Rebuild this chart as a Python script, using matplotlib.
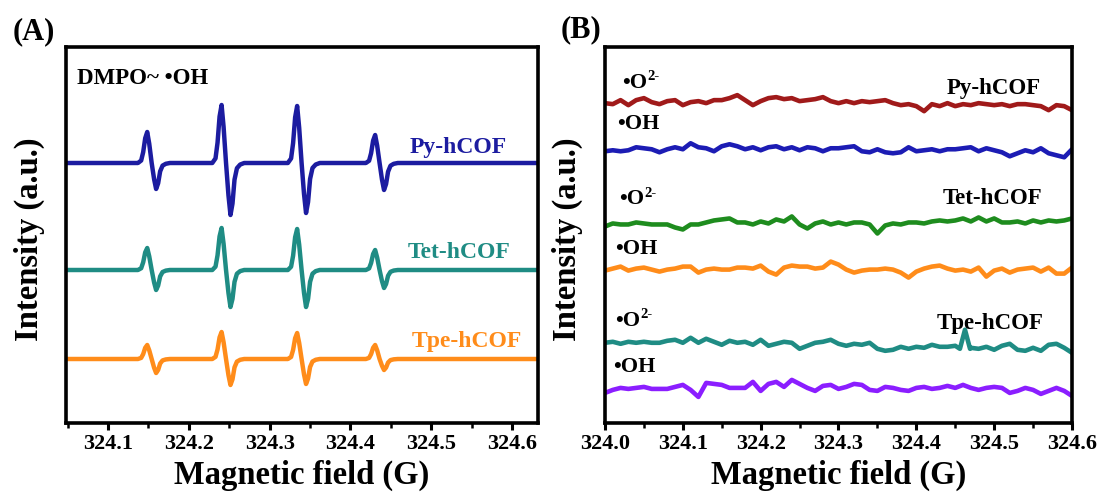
import numpy as np
import matplotlib
matplotlib.use("Agg")
import matplotlib.pyplot as plt
from matplotlib.ticker import MultipleLocator

plt.rcParams['font.family'] = ['Liberation Serif', 'DejaVu Serif']
plt.rcParams['font.weight'] = 'bold'

# ---------------- Panel A data (DMPO-OH quartet) ----------------
A_XLIM = (324.048, 324.632)
A_LINE_CENTERS = [324.154, 324.246, 324.3395, 324.436]
# derivative line shape (offset in G, relative height)
SHAPE_DX = [-0.0170, -0.0130, -0.0105, -0.0080, -0.0055, -0.0030, 0.0,
            0.0030, 0.0055, 0.0080, 0.0105, 0.0135, 0.0175, 0.0225]
SHAPE_Y = [0.0, 0.08, 0.35, 0.80, 1.0, 0.62, 0.0,
           -0.62, -1.0, -0.78, -0.32, -0.10, -0.03, 0.0]
A_NAMES = ['Py-hCOF', 'Tet-hCOF', 'Tpe-hCOF']
A_UP = {'Py-hCOF': [31, 58, 57, 28],
        'Tet-hCOF': [22, 42, 41, 20],
        'Tpe-hCOF': [14, 27, 26, 14]}
A_DOWN = {'Py-hCOF': [26, 52, 50, 27],
          'Tet-hCOF': [20, 37, 37, 18],
          'Tpe-hCOF': [14, 26, 25, 11]}
A_COLORS = {'Py-hCOF': '#1c1ca0', 'Tet-hCOF': '#1f8c84', 'Tpe-hCOF': '#ff8c1a'}
A_OFFSETS = {'Py-hCOF': 260, 'Tet-hCOF': 153, 'Tpe-hCOF': 64}

# ---------------- Panel B data (noise traces) ----------------
FIELD_B = np.round(np.arange(324.00, 324.605, 0.01), 2)
PY_O2 = [0, -1, 3, -2, 3, 5, 1, -1, 2, 3,
         -2, 1, 2, 0, 3, 3, 5, 8, 3, -2,
         2, 5, 6, 4, 5, 2, 3, 4, 6, 2,
         0, 2, 0, 2, 1, 2, 3, 0, -2, -1,
         -3, -8, -1, -3, 0, -3, -1, -2, 0, -1,
         -2, -1, -3, -1, -1, -2, -3, -7, -2, -3,
         -7]
PY_OH = [-1, 0, -1, 0, 3, 2, 1, -2, 1, 3,
         1, 7, 3, 2, -1, 4, 6, 4, 1, 3,
         0, 3, 4, 1, 3, 0, 3, 2, -1, 2,
         2, 3, 4, -1, -2, 1, -2, -3, -2, 3,
         -1, 0, 1, -1, 1, 1, 2, 3, -1, 2,
         0, -2, -6, -3, 0, -2, 2, -3, -5, -7,
         1]
TET_O2 = [-3, 0, -1, -1, 1, 0, -1, -1, -1, -4,
          -6, -1, -1, 1, 3, 4, 5, 1, 1, -1,
          2, 0, 4, 2, 7, -1, -5, 0, 2, -1,
          1, -1, 1, 1, -1, -10, -2, 0, -1, 1,
          1, 0, 2, 3, 2, 3, 5, 2, 6, 2,
          5, 1, 1, 2, 0, 3, 1, 3, 2, 3,
          5]
TET_OH = [-1, 1, 3, -1, 1, 2, 0, -2, 0, 1,
          3, 3, -3, 0, 1, 0, 0, 2, 2, 1,
          4, -2, -5, 2, 4, 3, 3, 1, 2, 8,
          5, 0, -3, -1, 0, 0, 1, 0, -3, -8,
          -2, 1, 3, 4, 1, -1, 0, -2, 2, -7,
          -1, 1, -3, 0, 1, 2, -2, 2, -4, -4,
          2]
TPE_O2_FIELD = list(FIELD_B[:46]) + [324.456, 324.4625, 324.469] + list(FIELD_B[47:])
TPE_O2 = [0, 1, -1, 1, 0, 1, 0, 0, 2, 3,
          0, 5, 0, 4, 1, -2, 2, 0, 1, -2,
          3, -3, -1, 1, 0, -6, -3, 0, 1, 3,
          -1, -3, -1, -2, 0, -6, -8, -7, -4, -6,
          -4, -5, -2, -4, -4, -3,
          -6, 13, -6,
          -5, -6, -4, -7, -3, -1, -7, -8, -5, -8, -2, -1, -5,
          -10]
TPE_OH = [-5, -2, 0, -1, 0, 1, -1, -1, -1, 1,
          3, -2, -9, 5, 4, 3, 0, 0, 0, 6,
          -3, 4, 6, 1, 8, 4, 0, -3, 2, 3,
          -1, 1, 4, 3, -2, -3, 1, 0, -2, -3,
          0, 1, -1, 0, 2, 0, 3, 0, -2, 0,
          1, 0, -5, -3, 0, -2, -6, -3, 0, -3,
          -8]

B_TRACES = [
    (list(FIELD_B), PY_O2, 319, '#a01a1a'),
    (list(FIELD_B), PY_OH, 272, '#1c1cb4'),
    (list(FIELD_B), TET_O2, 199, '#1e8c1e'),
    (list(FIELD_B), TET_OH, 153, '#ff8c1a'),
    (TPE_O2_FIELD, TPE_O2, 80, '#1f8c84'),
    (list(FIELD_B), TPE_OH, 35, '#8b1eff'),
]

# ---------------- Figure ----------------
fig = plt.figure(figsize=(11.01, 4.94), dpi=100)
axA = fig.add_axes([66 / 1101, 71 / 494, 472 / 1101, 376 / 494])
axB = fig.add_axes([605 / 1101, 71 / 494, 467 / 1101, 376 / 494])

TICKFS = 16
LABELFS = 23.5

def style_axis(ax):
    for sp in ax.spines.values():
        sp.set_linewidth(2.6)
    ax.set_yticks([])
    ax.xaxis.set_major_locator(MultipleLocator(0.1))
    ax.xaxis.set_minor_locator(MultipleLocator(0.05))
    ax.tick_params(axis='x', which='major', direction='out', length=5, width=2.2,
                   labelsize=TICKFS, pad=3)
    ax.tick_params(axis='x', which='minor', direction='out', length=3.5, width=1.8)
    ax.set_xlabel('Magnetic field (G)', fontsize=LABELFS, fontweight='bold')
    ax.set_ylabel('Intensity (a.u.)', fontsize=23.5, fontweight='bold')

# Panel A
for name in A_NAMES:
    xs = [A_XLIM[0]]
    ys = [A_OFFSETS[name]]
    for c, up, dn in zip(A_LINE_CENTERS, A_UP[name], A_DOWN[name]):
        for dx, s in zip(SHAPE_DX, SHAPE_Y):
            xs.append(c + dx)
            ys.append(A_OFFSETS[name] + (s * up if s >= 0 else s * dn))
    xs.append(A_XLIM[1])
    ys.append(A_OFFSETS[name])
    axA.plot(xs, ys, color=A_COLORS[name], lw=3.2, solid_joinstyle='round',
             solid_capstyle='round')

axA.set_xlim(*A_XLIM)
axA.set_ylim(0, 376)
style_axis(axA)
axA.xaxis.set_label_coords(0.5, -0.098)
axA.yaxis.set_label_coords(-0.045, 0.49)
axA.set_xticks([324.1, 324.2, 324.3, 324.4, 324.5, 324.6])
axA.set_xticklabels(['324.1', '324.2', '324.3', '324.4', '324.5', '324.6'],
                    fontweight='bold')

axA.text(324.0614, 345, 'DMPO~ •OH', fontsize=16.5, fontweight='bold',
         ha='left', va='center')
axA.text(324.5337, 276, 'Py-hCOF', fontsize=17, fontweight='bold',
         color=A_COLORS['Py-hCOF'], ha='center', va='center')
axA.text(324.535, 171, 'Tet-hCOF', fontsize=17, fontweight='bold',
         color=A_COLORS['Tet-hCOF'], ha='center', va='center')
axA.text(324.5435, 82, 'Tpe-hCOF', fontsize=17, fontweight='bold',
         color=A_COLORS['Tpe-hCOF'], ha='center', va='center')

# Panel B
for xs, dev, off, col in B_TRACES:
    axB.plot(xs, [off + d for d in dev], color=col, lw=3.3, solid_joinstyle='round',
             solid_capstyle='round')

axB.set_xlim(324.0, 324.6)
axB.set_ylim(0, 375)
style_axis(axB)
axB.xaxis.set_label_coords(0.5, -0.098)
axB.yaxis.set_label_coords(-0.047, 0.49)
axB.set_xticks([324.0, 324.1, 324.2, 324.3, 324.4, 324.5, 324.6])
axB.set_xticklabels(['324.0', '324.1', '324.2', '324.3', '324.4', '324.5', '324.6'],
                    fontweight='bold')

def o2_label(ax, x, y):
    t = ax.text(x, y, '•O', fontsize=16, fontweight='bold', ha='left', va='center')
    ax.annotate('2-', xy=(1.0, 1.0), xycoords=t, xytext=(0.3, 2), textcoords='offset points',
                fontsize=10.5, fontweight='bold', ha='left', va='top')

o2_label(axB, 324.0218, 339)
o2_label(axB, 324.018, 223)
o2_label(axB, 324.013, 102)
axB.text(324.0154, 298, '•OH', fontsize=16, fontweight='bold', ha='left', va='center')
axB.text(324.013, 174, '•OH', fontsize=16, fontweight='bold', ha='left', va='center')
axB.text(324.010, 56, '•OH', fontsize=16, fontweight='bold', ha='left', va='center')
axB.text(324.4991, 334, 'Py-hCOF', fontsize=16.5, fontweight='bold', ha='center', va='center')
axB.text(324.498, 224, 'Tet-hCOF', fontsize=16.5, fontweight='bold', ha='center', va='center')
axB.text(324.495, 99, 'Tpe-hCOF', fontsize=16.5, fontweight='bold', ha='center', va='center')

fig.text(34 / 1101, 1 - 32 / 494, '(A)', fontsize=22, fontweight='bold', ha='center', va='center')
fig.text(581 / 1101, 1 - 30 / 494, '(B)', fontsize=22, fontweight='bold', ha='center', va='center')

fig.savefig('out.png', dpi=100)
